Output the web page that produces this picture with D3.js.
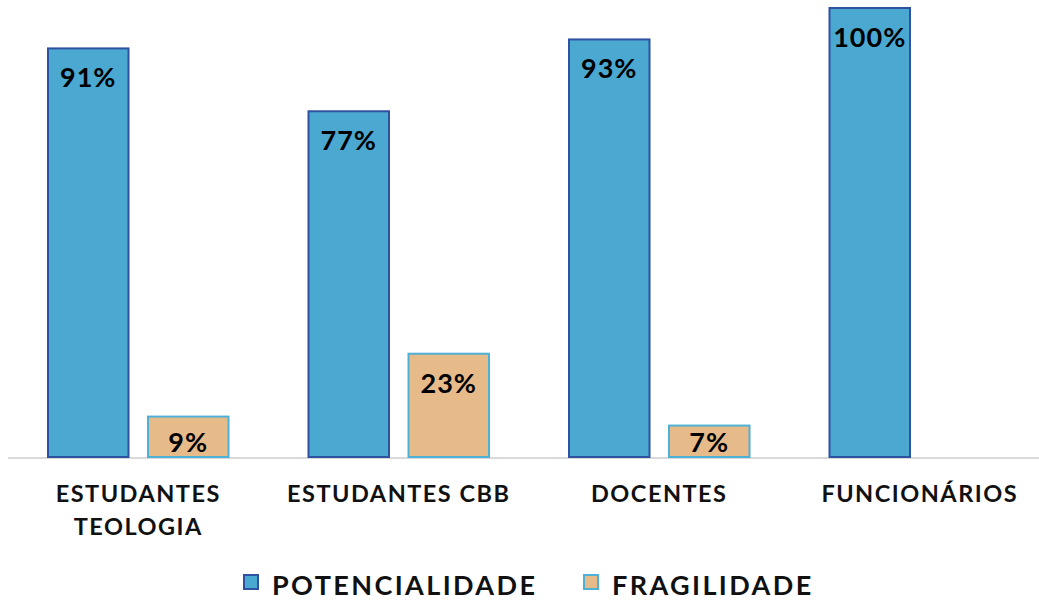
<!DOCTYPE html>
<html lang="pt">
<head>
  <meta charset="UTF-8" />
  <title>Potencialidade x Fragilidade</title>
  <script src="https://d3js.org/d3.v7.min.js"></script>
  <style>
    body { margin: 0; background: #fff; }
    svg { display: block; font-family: Lato, "Open Sans", sans-serif; font-weight: 700; }
    .bar-label { font-size: 27px; fill: #000; text-anchor: middle; letter-spacing: 1px; }
    .cat-label { font-size: 23.5px; fill: #111; text-anchor: middle; letter-spacing: 1.5px; }
    .legend-text { font-size: 27px; fill: #111; letter-spacing: 2.4px; }
  </style>
</head>
<body>
  <svg id="chart" width="1039" height="601"></svg>

  <script>
    const categories = [["ESTUDANTES", "TEOLOGIA"], ["ESTUDANTES CBB"], ["DOCENTES"], ["FUNCIONÁRIOS"]];
    const series = ["POTENCIALIDADE", "FRAGILIDADE"];
    const potencialidade = [0.91, 0.77, 0.93, 1.00];
    const fragilidade = [0.09, 0.23, 0.07, 0];

    const fills = { POTENCIALIDADE: "#4aa8d1", FRAGILIDADE: "#e7ba8a" };
    const strokes = { POTENCIALIDADE: "#2f52a0", FRAGILIDADE: "#4fb0d6" };

    const svg = d3.select('#chart');
    const baseY = 457, topY = 8;

    const x0 = d3.scaleBand().domain(d3.range(categories.length)).range([8, 1050]).padding(0);
    const x1 = d3.scaleBand().domain(series).range([0, x0.bandwidth()])
      .paddingInner(0.18).paddingOuter(0.3925);
    const y = d3.scaleLinear().domain([0, 1]).range([baseY, topY]);

    const rows = categories.map((c, i) => ({
      i, values: [
        { key: "POTENCIALIDADE", v: potencialidade[i] },
        { key: "FRAGILIDADE", v: fragilidade[i] }
      ]
    }));

    // axis line
    svg.append('line')
      .attr('x1', 8).attr('x2', 1039).attr('y1', baseY + 1).attr('y2', baseY + 1)
      .attr('stroke', '#d9d9d9').attr('stroke-width', 2);

    const groups = svg.selectAll('g.cat').data(rows).join('g')
      .attr('class', 'cat')
      .attr('transform', d => `translate(${x0(d.i)},0)`);

    const bars = groups.selectAll('g.bar').data(d => d.values.filter(v => v.v > 0)).join('g').attr('class', 'bar');

    bars.append('rect')
      .attr('x', d => x1(d.key) + 0.75)
      .attr('y', d => y(d.v))
      .attr('width', x1.bandwidth() - 1.5)
      .attr('height', d => baseY - y(d.v))
      .attr('fill', d => fills[d.key])
      .attr('stroke', d => strokes[d.key])
      .attr('stroke-width', 2);

    bars.append('text')
      .attr('class', 'bar-label')
      .attr('x', d => x1(d.key) + x1.bandwidth() / 2)
      .attr('y', d => Math.min(y(d.v) + 39, baseY - 5))
      .text(d => Math.round(d.v * 100) + '%');

    // category labels
    const cat = svg.selectAll('text.cat-label').data(categories).join('text')
      .attr('class', 'cat-label')
      .attr('x', (d, i) => x0(i) + x0.bandwidth() / 2)
      .attr('y', 502);
    cat.selectAll('tspan').data(d => d).join('tspan')
      .attr('x', function () { return this.parentNode.getAttribute('x'); })
      .attr('dy', (d, i) => i === 0 ? 0 : 33)
      .text(d => d);

    // legend
    const legendX = [244, 584];
    const leg = svg.selectAll('g.legend').data(series).join('g')
      .attr('class', 'legend')
      .attr('transform', (d, i) => `translate(${legendX[i]},575)`);
    leg.append('rect')
      .attr('width', 14).attr('height', 14).attr('y', 0)
      .attr('fill', d => fills[d]).attr('stroke', d => strokes[d]).attr('stroke-width', 2);
    leg.append('text')
      .attr('class', 'legend-text')
      .attr('x', 28).attr('y', 19.5)
      .text(d => d);
  </script>
</body>
</html>
